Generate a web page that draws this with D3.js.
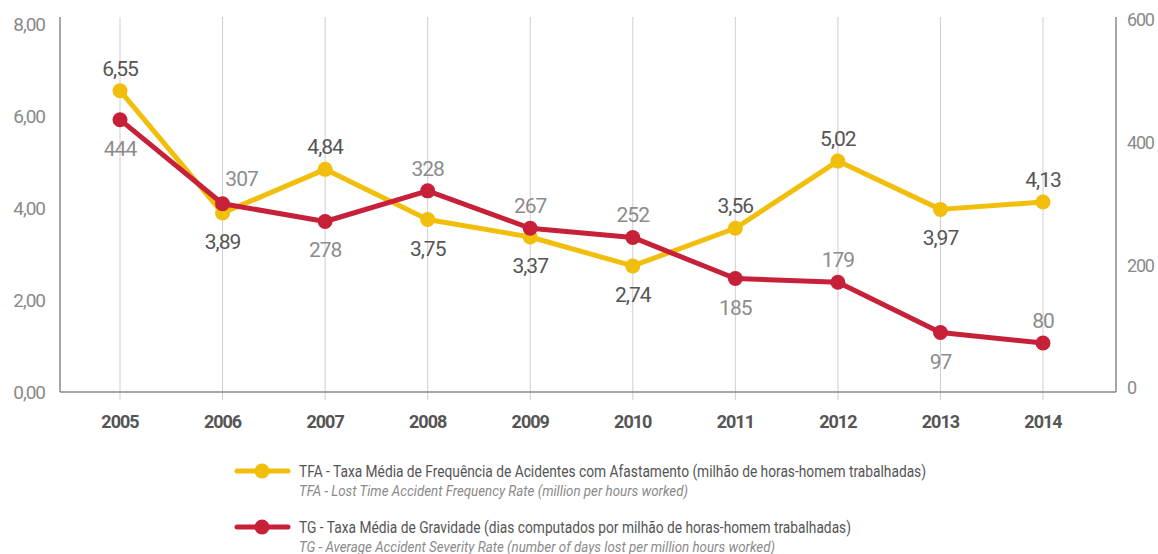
<!DOCTYPE html>
<html>
<head>
<meta charset="utf-8">
<script src="https://cdn.jsdelivr.net/npm/d3@7"></script>
<style>
  body { margin: 0; background: #fff; }
  svg text { font-family: "Roboto", "Liberation Sans", sans-serif; }
</style>
</head>
<body>
<div id="vis-container"></div>
<script>
// data
var years = ["2005", "2006", "2007", "2008", "2009", "2010", "2011", "2012", "2013", "2014"];
var tfaValues = [6.55, 3.89, 4.84, 3.75, 3.37, 2.74, 3.56, 5.02, 3.97, 4.13];
var tgValues = [444, 307, 278, 328, 267, 252, 185, 179, 97, 80];
var leftTicks = [0, 2, 4, 6, 8];
var rightTicks = [0, 200, 400, 600];
var legendMain = [
    "TFA - Taxa Média de Frequência de Acidentes com Afastamento (milhão de horas-homem trabalhadas)",
    "TG - Taxa Média de Gravidade (dias computados por milhão de horas-homem trabalhadas)"
];
var legendSub = [
    "TFA - Lost Time Accident Frequency Rate (million per hours worked)",
    "TG - Average Accident Severity Rate (number of days lost per million hours worked)"
];
// where each value label sits relative to its point
var tfaLabelSide = ["up", "down", "up", "down", "down", "down", "up", "up", "down", "up"];
var tgLabelSide = ["down", "upright", "down", "up", "up", "up", "down", "up", "down", "up"];

var width = 1158, height = 554;
var plotLeft = 60, plotRight = 1116, plotTop = 17, plotBottom = 392;

var svg = d3.select("#vis-container")
    .append("svg")
    .attr("width", width)
    .attr("height", height);

var xScale = d3.scalePoint()
    .domain(years)
    .range([120, 1043]);

var yLeft = d3.scaleLinear()
    .domain([0, 8])
    .range([plotBottom, 24]);

var yRight = d3.scaleLinear()
    .domain([0, 600])
    .range([plotBottom, 24]);

var yellow = "#f2be0c", red = "#c7213a";

// vertical gridlines
svg.append("g")
    .selectAll("line")
    .data(years)
    .enter().append("line")
    .attr("x1", d => xScale(d)).attr("x2", d => xScale(d))
    .attr("y1", plotTop).attr("y2", 400)
    .attr("stroke", "#cfcfcf")
    .attr("stroke-width", 1);

// frame lines
svg.append("line")
    .attr("x1", plotLeft).attr("x2", plotLeft)
    .attr("y1", plotTop).attr("y2", plotBottom)
    .attr("stroke", "#777").attr("stroke-width", 1.3);
svg.append("line")
    .attr("x1", plotRight).attr("x2", plotRight)
    .attr("y1", plotTop).attr("y2", plotBottom)
    .attr("stroke", "#777").attr("stroke-width", 1.3);
svg.append("line")
    .attr("x1", plotLeft).attr("x2", plotRight)
    .attr("y1", plotBottom).attr("y2", plotBottom)
    .attr("stroke", "#888").attr("stroke-width", 1.5);

// left axis labels
svg.append("g")
    .selectAll("text")
    .data(leftTicks)
    .enter().append("text")
    .attr("x", 45)
    .attr("y", d => yLeft(d))
    .attr("dy", "0.35em")
    .attr("text-anchor", "end")
    .attr("fill", "#8a8a8a")
    .style("font-size", "19px")
    .style("letter-spacing", "-1px")
    .text(d => d.toFixed(2).replace(".", ","));

// right axis labels
svg.append("g")
    .selectAll("text")
    .data(rightTicks)
    .enter().append("text")
    .attr("x", 1127)
    .attr("y", d => yRight(d) - 4)
    .attr("dy", "0.35em")
    .attr("text-anchor", "start")
    .attr("fill", "#8a8a8a")
    .style("font-size", "18px")
    .style("letter-spacing", "-1.2px")
    .text(d => d);

// year labels
svg.append("g")
    .selectAll("text")
    .data(years)
    .enter().append("text")
    .attr("x", d => xScale(d))
    .attr("y", 428)
    .attr("text-anchor", "middle")
    .attr("fill", "#555")
    .style("font-size", "18px")
    .style("font-weight", "bold")
    .style("letter-spacing", "-1px")
    .text(d => d);

function drawSeries(values, yScale, color) {
    var line = d3.line()
        .x((d, i) => xScale(years[i]))
        .y(d => yScale(d));
    svg.append("path")
        .datum(values)
        .attr("d", line)
        .attr("fill", "none")
        .attr("stroke", color)
        .attr("stroke-width", 5)
        .attr("stroke-linejoin", "round");
    svg.append("g")
        .selectAll("circle")
        .data(values)
        .enter().append("circle")
        .attr("cx", (d, i) => xScale(years[i]))
        .attr("cy", d => yScale(d))
        .attr("r", 7.5)
        .attr("fill", color);
}

drawSeries(tfaValues, yLeft, yellow);
drawSeries(tgValues, yRight, red);

function drawLabels(values, yScale, sides, color, fmt) {
    svg.append("g")
        .selectAll("text")
        .data(values)
        .enter().append("text")
        .attr("x", (d, i) => xScale(years[i]) + (sides[i] === "upright" ? 19 : 0))
        .attr("y", (d, i) => yScale(d) + (sides[i] === "down" ? 36 : sides[i] === "upright" ? -18 : -15))
        .attr("text-anchor", "middle")
        .attr("fill", color)
        .style("font-size", "21px")
        .style("letter-spacing", "-1px")
        .text(fmt);
}

drawLabels(tfaValues, yLeft, tfaLabelSide, "#555", d => d.toFixed(2).replace(".", ","));
drawLabels(tgValues, yRight, tgLabelSide, "#8c8c8c", d => d);

// legend
var legendColors = [yellow, red];
var mainWidths = [627, 552], subWidths = [389, 476];
var legend = svg.append("g")
    .selectAll("g")
    .data(legendMain)
    .enter().append("g")
    .attr("transform", (d, i) => "translate(0," + (471 + i * 56) + ")");

legend.append("line")
    .attr("x1", 237).attr("x2", 288)
    .attr("stroke", (d, i) => legendColors[i])
    .attr("stroke-width", 5)
    .attr("stroke-linecap", "round");
legend.append("circle")
    .attr("cx", 262)
    .attr("r", 7.5)
    .attr("fill", (d, i) => legendColors[i]);
legend.append("text")
    .attr("x", 299)
    .attr("y", 6)
    .attr("fill", "#555")
    .style("font-size", "16px")
    .attr("textLength", (d, i) => mainWidths[i])
    .attr("lengthAdjust", "spacingAndGlyphs")
    .text(d => d);
legend.append("text")
    .attr("x", 299)
    .attr("y", 25)
    .attr("fill", "#8a8a8a")
    .style("font-size", "15px")
    .style("font-style", "italic")
    .attr("textLength", (d, i) => subWidths[i])
    .attr("lengthAdjust", "spacingAndGlyphs")
    .text((d, i) => legendSub[i]);
</script>
</body>
</html>
